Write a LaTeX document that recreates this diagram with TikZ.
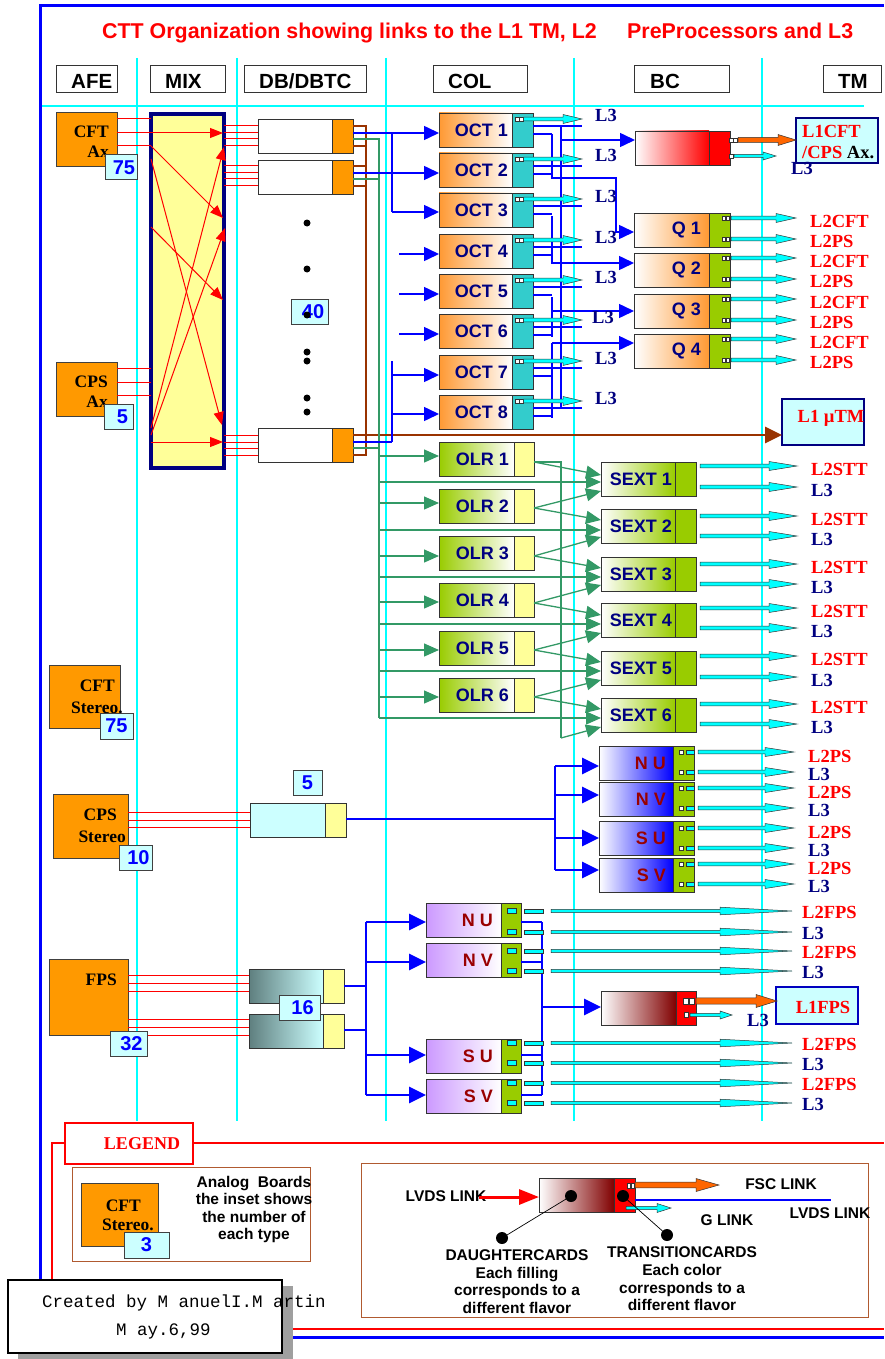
\documentclass[tikz,border=0pt]{standalone}
\usepackage{fontspec}
\setmainfont{Liberation Sans}
\newfontfamily\serfam{Liberation Serif}
\newfontfamily\monofam{Liberation Mono}
\usetikzlibrary{arrows.meta,calc}
\definecolor{cafe}{HTML}{FF9900}
\definecolor{coct}{HTML}{FF9933}
\definecolor{cltc}{HTML}{CCFFFF}
\definecolor{cyel}{HTML}{FFFF99}
\definecolor{cnavy}{HTML}{000080}
\definecolor{cteal}{HTML}{33CCCC}
\definecolor{clg}{HTML}{99CC00}
\definecolor{cbrn}{HTML}{993300}
\definecolor{cgrn}{HTML}{339966}
\definecolor{cmar}{HTML}{990000}
\definecolor{cvio}{HTML}{CC99FF}
\definecolor{cslate}{HTML}{5F7F7F}
\definecolor{cdred}{HTML}{800000}
\definecolor{caqua}{HTML}{00FFFF}
\definecolor{corr}{HTML}{FF6600}
\definecolor{clb}{HTML}{B05A30}
\newcommand\fs[1]{\fontsize{#1}{#1}\selectfont}
\newcommand\parr[7]{\filldraw[fill=#1,draw=black!80,line width=0.5pt] (#2,#4-#6) -- (#3-#5,#4-#6) -- (#3-#5,#4-#7) -- (#3,#4) -- (#3-#5,#4+#7) -- (#3-#5,#4+#6) -- (#2,#4+#6) -- cycle;}
\newcommand\carr[4]{\parr{caqua}{#1}{#2}{#3}{#4}{1.8}{4.5}}
\newcommand\card[8]{%
 \node[cardm,#6,minimum width=#4pt] (#1) at (#2,#3) {};
 \node[cardm,#7,minimum width=#5pt] (#1-t) at (#1.north east) {};
 \node[cardtxt] (#1-l) at ($(#1.east)+(-3pt,0)$) {#8};}
\tikzset{
 hdr/.style={draw=black!80,line width=1pt,fill=white,anchor=north west,inner sep=0,outer sep=0,minimum height=27pt},
 hdrtxt/.style={anchor=base west,inner sep=0,font=\bfseries\fs{20.5}},
 afe/.style={draw=black!75,line width=1pt,fill=cafe,anchor=north west,inner sep=0,outer sep=0},
 afetxt/.style={anchor=base east,inner sep=0,font=\serfam\bfseries\fs{17.5}},
 insetb/.style={draw=black!75,line width=1pt,fill=cltc,anchor=north west,inner sep=0,outer sep=0,text=blue,font=\bfseries\fs{20}},
 cardm/.style={draw=black!80,line width=0.9pt,anchor=north west,inner sep=0,outer sep=0,minimum height=34pt},
 cardtxt/.style={anchor=east,inner sep=0,text=cnavy,font=\bfseries\fs{18}},
 labr/.style={anchor=base west,inner sep=0,text=red,font=\serfam\bfseries\fs{18.5}},
 labn/.style={anchor=base west,inner sep=0,text=cnavy,font=\serfam\bfseries\fs{18.5}},
 redl/.style={draw=red,line width=1pt},
 redarr/.style={redl,-{Triangle[length=13pt,width=10pt]}},
 bl/.style={draw=blue,line width=1.2pt},
 blt/.style={draw=blue,line width=2.8pt},
 blarr/.style={draw=blue,line width=1.5pt,-{Triangle[length=15pt,width=14pt]}},
 bltarr/.style={draw=blue,line width=2.8pt,-{Triangle[length=17pt,width=16pt]}},
 brl/.style={draw=cbrn,line width=2.4pt},
 gl/.style={draw=cgrn,line width=1.3pt},
 garr/.style={gl,-{Triangle[length=15pt,width=13pt]}},
 cgrid/.style={draw=caqua,line width=1.1pt},
 sq/.style={draw=black!80,fill=white,line width=0.5pt},
 dotn/.style={circle,fill=black,inner sep=0,minimum size=7pt},
 lgtxt/.style={font=\bfseries\fontsize{15.5}{17.6}\selectfont,align=center,inner sep=0},
 lboxt/.style={font=\bfseries\fs{15.5},inner sep=0},
 l1box/.style={draw=cnavy,line width=1.5pt,fill=cltc,anchor=north west,inner sep=0,outer sep=0}
}
\begin{document}
\begin{tikzpicture}[x=1pt,y=-1pt]
\useasboundingbox (0,0) rectangle (884,1359);
% grid
\foreach \gx in {137,237,386,574,762} \draw[cgrid] (\gx,58) -- (\gx,1121);
\draw[cgrid] (40,106) -- (864,106);
% frame
\draw[blue,line width=3pt] (40,1337) -- (40,6) -- (884,6);
\draw[blue,line width=3pt] (40,1337) -- (884,1337);
\draw[red,line width=1.5pt] (193,1143) -- (884,1143);
\draw[red,line width=1.5pt] (65,1143) -- (52,1143) -- (52,1329) -- (884,1329);
% title
\node[anchor=base west,inner sep=0,text=red,font=\bfseries\fs{21.4}] (title1) at (102,38.5) {CTT Organization showing links to the L1 TM, L2};
\node[anchor=base west,inner sep=0,text=red,font=\bfseries\fs{21.4}] (title2) at (627,38.5) {PreProcessors and L3};
% headers
\node[hdr,minimum width=61pt] (hafe) at (56,66) {};
\node[hdrtxt] (tafe) at (71,89) {AFE};
\node[hdr,minimum width=75pt] (hmix) at (150,66) {};
\node[hdrtxt] (tmix) at (165,89) {MIX};
\node[hdr,minimum width=122pt] (hdb) at (244,66) {};
\node[hdrtxt] (tdb) at (259,89) {DB/DBTC};
\node[hdr,minimum width=94pt] (hcol) at (433,66) {};
\node[hdrtxt] (tcol) at (448,89) {COL};
\node[hdr,minimum width=95pt] (hbc) at (634,66) {};
\node[hdrtxt] (tbc) at (650,89) {BC};
\node[hdr,minimum width=58pt] (htm) at (823,66) {};
\node[hdrtxt] (ttm) at (838,89) {TM};
% AFE boards
\node[afe,minimum width=61pt,minimum height=54pt] (cftax) at (56,113) {};
\node[afetxt] (cftax1) at (109,138) {CFT};
\node[afetxt] (cftax2) at (109,158) {Ax};
\node[afe,minimum width=61pt,minimum height=54pt] (cpsax) at (56,362) {};
\node[afetxt] (cpsax1) at (108,387) {CPS};
\node[afetxt] (cpsax2) at (108,407) {Ax};
\node[afe,minimum width=71pt,minimum height=63pt] (cftst) at (49,665) {};
\node[afetxt] (cftst1) at (115,691) {CFT};
\node[afetxt] (cftst2) at (123,713) {Stereo.};
\node[afe,minimum width=75pt,minimum height=64pt] (cpsst) at (53,794) {};
\node[afetxt] (cpsst1) at (117,820) {CPS};
\node[afetxt] (cpsst2) at (126,842) {Stereo};
\node[afe,minimum width=79pt,minimum height=76pt] (fps) at (49,959) {};
\node[afetxt] (fps1) at (117,985) {FPS};
% MIX
\node[draw=cnavy,line width=3.5pt,fill=cyel,anchor=north west,inner sep=0,outer sep=0,minimum width=73pt,minimum height=354pt] (mix) at (151,114) {};
% DB
\card{db1}{258}{119}{74}{21}{fill=white}{fill=cafe}{}
\card{db2}{258}{160}{74}{21}{fill=white}{fill=cafe}{}
\card{db3}{258}{428}{74}{21}{fill=white}{fill=cafe}{}
% OCT
\foreach \i/\yy in {1/113,2/153,3/193,4/234,5/274,6/314,7/355,8/395}{
 \card{oct\i}{439}{\yy}{73}{21}{left color=coct,right color=white}{fill=cteal}{OCT \i\kern1pt}}
% Q
\foreach \i/\yy in {1/213,2/253,3/294,4/334}{
 \card{q\i}{634}{\yy}{75}{21}{left color=white,right color=coct}{fill=clg}{Q \i\kern5pt}}
\card{rb}{635}{131}{74}{21}{left color=white,right color=red}{fill=red}{}
% OLR
\foreach \i/\yy in {1/442,2/489,3/536,4/583,5/631,6/678}{
 \card{olr\i}{439}{\yy}{75}{20}{left color=clg,right color=white}{fill=cyel}{OLR \i\kern2pt}}
% SEXT
\foreach \i/\yy in {1/462,2/509,3/557,4/603,5/651,6/698}{
 \card{sx\i}{601}{\yy}{74}{21}{left color=white,right color=clg}{fill=clg}{SEXT \i}}
% stereo
\foreach \i/\yy/\tx in {1/746/N U,2/782/N V,3/821/S U,4/858/S V}{
 \card{sn\i}{599}{\yy}{74}{21}{left color=white,right color=blue}{fill=clg}{\textcolor{cmar}{\tx}\kern4pt}}
% FPS
\foreach \i/\yy/\tx in {1/903/N U,2/943/N V,3/1039/S U,4/1079/S V}{
 \card{fn\i}{426}{\yy}{75}{20}{left color=cvio,right color=white}{fill=clg}{\textcolor{cmar}{\tx}\kern5pt}}
\card{fb}{601}{991}{75}{20}{left color=white,right color=cdred}{fill=red}{}
\card{cdb}{250}{803}{75}{21}{fill=cltc}{fill=cyel}{}
\card{fdb1}{249}{969}{74}{21}{left color=cslate,right color=cltc}{fill=cyel}{}
\card{fdb2}{249}{1014}{74}{21}{left color=cslate,right color=cltc}{fill=cyel}{}
% L1 boxes
\node[l1box,minimum width=82pt,minimum height=45pt] (l1cft) at (796,118) {};
\node[labr] (l1cft1) at (802,138) {L1CFT};
\node[labr] (l1cft2) at (802,159) {/CPS \textcolor{black}{Ax.}};
\node[l1box,minimum width=82pt,minimum height=46pt] (l1mu) at (782,399) {};
\node[labr,anchor=base] (l1mut) at (831,422) {L1 µTM};
\node[l1box,draw=blue!75!black,minimum width=82pt,minimum height=37pt] (l1fps) at (776,987) {};
\node[labr,anchor=base] (l1fpst) at (823,1013) {L1FPS};

% ---- red lines AFE -> MIX -> DB
\draw[redl] (cftax.east |- 0,119) -- (mix.west |- 0,119);
\draw[redarr] (cftax.east |- 0,133) -- (223,133);
\draw[redl] (cftax.east |- 0,146) -- (151,146);
\draw[redarr] (151,146) -- (223,218);
\draw[redarr] (151,159) -- (222,425);
\draw[redarr] (151,227) -- (223,300);
\draw[redl] (cpsax.east |- 0,368) -- (mix.west |- 0,368);
\draw[redl] (cpsax.east |- 0,382) -- (mix.west |- 0,382);
\draw[redl] (cpsax.east |- 0,395) -- (mix.west |- 0,395);
\draw[redarr] (151,428) -- (224,147);
\draw[redarr] (151,435) -- (225,228);
\draw[redarr] (151,442) -- (223,442);
\foreach \yy in {126,133,139,146} \draw[redl] (224,\yy) -- (db1.west |- 0,\yy);
\foreach \yy in {166,173,179,186} \draw[redl] (224,\yy) -- (db2.west |- 0,\yy);
\foreach \yy in {435,442,448,455} \draw[redl] (224,\yy) -- (db3.west |- 0,\yy);
\foreach \yy in {812,820,827} \draw[redl] (cpsst.east |- 0,\yy) -- (cdb.west |- 0,\yy);
\foreach \yy in {975,983,991} \draw[redl] (fps.east |- 0,\yy) -- (fdb1.west |- 0,\yy);
\foreach \yy in {1019,1027,1035} \draw[redl] (fps.east |- 0,\yy) -- (fdb2.west |- 0,\yy);

% ---- brown
\draw[brl] (db1-t.east |- 0,126) -- (366,126) -- (366,455) -- (db3-t.east |- 0,455);
\draw[brl] (db1-t.east |- 0,146) -- (366,146);
\draw[brl] (db2-t.east |- 0,166) -- (366,166);
\draw[brl] (db2-t.east |- 0,186) -- (366,186);
\draw[brl,line width=2.8pt,-{Triangle[length=17pt,width=16pt]}] (db3-t.east |- 0,435) -- (l1mu.west |- 0,435);

% ---- green
\draw[gl] (db1-t.east |- 0,139) -- (379,139) -- (379,718);
\draw[gl] (db2-t.east |- 0,179) -- (379,179);
\draw[gl] (db3-t.east |- 0,448) -- (379,448);
\foreach \i/\yy in {1/456,2/503,3/556,4/602,5/650,6/697} \draw[garr] (379,\yy) -- (olr\i.west |- 0,\yy);
\foreach \i/\yy in {1/482,2/530,3/577,4/624,5/671,6/718} \draw[garr] (379,\yy) -- (sx\i.west |- 0,\yy);
\draw[gl] (olr1-t.east |- 0,462) -- (561,462) -- (561,738);
\draw[garr] (olr1-t.east |- 0,462) -- (sx1.west |- 0,475);
\foreach \i/\j/\yy/\ya/\yb in {2/1/508/491/520,3/2/556/537/568,4/3/603/585/615,5/4/650/633/662,6/5/697/680/709}{
 \draw[garr] (olr\i-t.east |- 0,\yy) -- (sx\j.west |- 0,\ya);
 \draw[garr] (olr\i-t.east |- 0,\yy) -- (sx\i.west |- 0,\yb);}
\draw[garr] (561,738) -- (sx6.west |- 0,727);

% ---- blue into OCT
\draw[blt] (db1-t.east |- 0,133) -- (392,133);
\draw[blt] (db2-t.east |- 0,173) -- (392,173);
\draw[bl] (392,133) -- (392,212);
\draw[blarr] (392,133) -- (oct1.west |- 0,133);
\draw[blarr] (392,173) -- (oct2.west |- 0,173);
\draw[blarr] (392,212) -- (oct3.west |- 0,212);
\draw[blarr] (399,254) -- (oct4.west |- 0,254);
\draw[blarr] (399,294) -- (oct5.west |- 0,294);
\draw[blarr] (399,334) -- (oct6.west |- 0,334);
\draw[blt] (db3-t.east |- 0,442) -- (392,442);
\draw[bl] (392,361) -- (392,442);
\draw[blarr] (392,375) -- (oct7.west |- 0,375);
\draw[blarr] (392,414) -- (oct8.west |- 0,414);

% ---- OCT outputs
\foreach \i/\yy in {1/113,2/153,3/193,4/234,5/274,6/314,7/355,8/395}{
 \draw[bl] (oct\i-t.east |- 0,\yy+13) -- (582,\yy+13);
 \draw[bl] (oct\i-t.east |- 0,\yy+21) -- (552,\yy+21);}
\draw[bl] (561,126) -- (561,409);
\draw[blarr] (561,140) -- (rb.west |- 0,140);
\draw[blarr] (552,134) -- (552,178) -- (616,178) -- (616,232) -- (q1.west |- 0,232);
\draw[blarr] (552,216) -- (552,263) -- (q2.west |- 0,263);
\draw[bl] (552,297) -- (552,337);
\draw[blarr] (552,311) -- (q3.west |- 0,311);
\draw[bl] (552,343) -- (552,418);
\draw[blarr] (552,343) -- (q4.west |- 0,343);
\foreach \i/\yy/\lx in {1/113/595,2/153/595,3/193/595,4/234/595,5/274/595,6/314/592,7/355/595,8/395/595}{
 \draw[sq] (515,\yy+4) rectangle +(4,4);
 \draw[sq] (519.5,\yy+4) rectangle +(4,4);
 \carr{523.5}{582}{\yy+6}{19}
 \node[labn] (l3o\i) at (\lx,\yy+9) {L3};}

% ---- BC red board outputs
\draw[sq] (729,138) rectangle +(4,4);
\draw[sq] (733.5,138) rectangle +(4,4);
\parr{corr}{738}{796}{140}{18}{2.5}{5.5}
\draw[sq] (729,154) rectangle +(4,4);
\parr{caqua}{734}{776}{156}{13}{1.5}{4}
\node[labn] (l3rb) at (791,175) {L3};

% ---- Q outputs
\foreach \i/\yy in {1/213,2/253,3/294,4/334}{
 \draw[sq] (722,\yy+3) rectangle +(3.5,4);
 \draw[sq] (726,\yy+3) rectangle +(3.5,4);
 \draw[sq] (722,\yy+24) rectangle +(3.5,4);
 \draw[sq] (726,\yy+24) rectangle +(3.5,4);
 \carr{731}{796}{\yy+5}{20}
 \carr{731}{796}{\yy+26}{20}
 \node[labr] (qa\i) at (810,\yy+14) {L2CFT};
 \node[labr] (qb\i) at (810,\yy+34) {L2PS};}

% ---- SEXT outputs
\foreach \i/\ya/\yb in {1/466/487,2/516/536,3/564/584,4/608/628,5/656/677,6/704/724}{
 \carr{700}{797}{\ya}{28}
 \carr{700}{797}{\yb}{28}
 \node[labr] (sa\i) at (811,\ya+9) {L2STT};
 \node[labn] (sb\i) at (811,\yb+9.5) {L3};}

% ---- CPS stereo
\draw[blt] (cdb-t.east |- 0,819) -- (555,819);
\draw[blt] (555,766) -- (555,870);
\foreach \i/\yy in {1/766,2/795,3/838,4/870} \draw[bltarr] (555,\yy) -- (sn\i.west |- 0,\yy);
\foreach \i/\ya/\yb in {1/752/772,2/788/808,3/828/848,4/864/884}{
 \draw[sq] (679,\ya-2) rectangle +(4,4);
 \filldraw[fill=caqua,draw=black!80,line width=0.5pt] (686,\ya-2) rectangle +(8,4);
 \draw[sq] (679,\yb-2) rectangle +(4,4);
 \filldraw[fill=caqua,draw=black!80,line width=0.5pt] (686,\yb-2) rectangle +(8,4);
 \carr{698}{794}{\ya}{29}
 \carr{698}{794}{\yb}{29}
 \node[labr] (spa\i) at (808,\ya+10) {L2PS};
 \node[labn] (spb\i) at (808,\yb+8) {L3};}

% ---- FPS
\draw[blt] (fdb1-t.east |- 0,986) -- (366,986);
\draw[blt] (fdb2-t.east |- 0,1030) -- (366,1030);
\draw[blt] (366,922) -- (366,1095);
\foreach \i/\yy in {1/922,2/962,3/1055,4/1095} \draw[bltarr] (366,\yy) -- (fn\i.west |- 0,\yy);
\foreach \i/\yy in {1/922,2/962,3/1055,4/1095} \draw[blt] (fn\i-t.east |- 0,\yy) -- (542,\yy);
\draw[blt] (542,922) -- (542,1095);
\draw[bltarr] (542,1007) -- (fb.west |- 0,1007);
\foreach \ya in {911,932,951,971,1043,1063,1083,1103}{
 \filldraw[fill=caqua,draw=black!80,line width=0.5pt] (507,\ya-2.5) rectangle (516,\ya+2.5);
 \filldraw[fill=caqua,draw=black!80,line width=0.5pt] (524,\ya-2) rectangle (543,\ya+2);
 \parr{caqua}{551}{792}{\ya}{72}{1.6}{3.8}}
\foreach \i/\ya/\yb in {1/911/932,2/951/971,3/1043/1063,4/1083/1103}{
 \node[labr] (fpa\i) at (802,\ya+7) {L2FPS};
 \node[labn] (fpb\i) at (802,\yb+7) {L3};}
\draw[sq] (683,998) rectangle +(5,6);
\draw[sq] (689,998) rectangle +(5,6);
\parr{corr}{696}{777}{1001}{21}{3.2}{6.5}
\draw[sq] (684,1012.5) rectangle +(4,5);
\parr{caqua}{690}{732}{1015}{12}{1.6}{4}
\node[labn] (l3fb) at (747,1026) {L3};

% ---- insets and dots
\node[insetb,minimum width=32pt,minimum height=25pt] (i75a) at (105,155) {\kern6pt75};
\node[insetb,minimum width=29pt,minimum height=25pt] (i5a) at (104,404) {\kern8pt5};
\node[insetb,minimum width=33pt,minimum height=26pt] (i75b) at (100,713) {75};
\node[insetb,minimum width=33pt,minimum height=25pt] (i10) at (119,845) {\kern6pt10};
\node[insetb,minimum width=37pt,minimum height=25pt] (i32) at (110,1031) {\kern6pt32};
\node[insetb,minimum width=37pt,minimum height=25pt] (i40) at (291,299) {\kern7pt40};
\node[insetb,minimum width=29pt,minimum height=25pt] (i5b) at (293,770) {5};
\node[insetb,minimum width=41pt,minimum height=25pt] (i16) at (279,995) {\kern6pt16};
\foreach \i/\yy in {1/223,2/269,3/315,4/352,5/361,6/398,7/412} \node[dotn] (dt\i) at (307,\yy) {};

% ---- legend
\node[draw=red,line width=1.2pt,fill=white,anchor=north west,inner sep=0,outer sep=0,minimum width=128pt,minimum height=41pt] (legbox) at (65,1123) {};
\node[text=red,font=\serfam\bfseries\fs{18},inner sep=0] (legtxt) at (142,1144) {LEGEND};
\node[draw=clb,line width=1pt,anchor=north west,inner sep=0,outer sep=0,minimum width=238pt,minimum height=94pt] (legl) at (72,1167) {};
\node[afe,minimum width=77pt,minimum height=63pt] (legafe) at (81,1183) {};
\node[afetxt] (legafe1) at (141,1211) {CFT};
\node[afetxt] (legafe2) at (154,1230) {Stereo.};
\node[insetb,minimum width=45pt,minimum height=26pt] (leg3) at (124,1232) {3};
\node[lgtxt] (legan) at (254,1209.5) {Analog~ Boards\\the inset shows\\the number of\\each type};
\node[draw=clb,line width=1pt,anchor=north west,inner sep=0,outer sep=0,minimum width=507pt,minimum height=154pt] (legr) at (361,1163) {};
\card{lb}{539}{1178}{75}{21}{left color=white,right color=cdred}{fill=red}{}
\draw[sq] (627,1183) rectangle +(3,5);
\draw[sq] (631,1183) rectangle +(3,5);
\parr{corr}{635}{719}{1185}{23}{2.8}{6.5}
\draw[blue,line width=2.4pt] (lb-t.east |- 0,1200) -- (831,1200);
\parr{caqua}{626}{671}{1208}{14}{1.6}{4.5}
\node[lboxt] (lvds1) at (446,1196) {LVDS LINK};
\draw[red,line width=3pt,-{Triangle[length=20pt,width=15pt]}] (479,1197) -- (lb.west |- 0,1197);
\node[lboxt] (fsc) at (781,1184) {FSC LINK};
\node[lboxt] (lvds2) at (830,1213) {LVDS LINK};
\node[lboxt] (glink) at (727,1220) {G LINK};
\node[circle,fill=black,inner sep=0,minimum size=12pt] (ld1) at (571,1196) {};
\node[circle,fill=black,inner sep=0,minimum size=12pt] (ld2) at (623,1196) {};
\node[circle,fill=black,inner sep=0,minimum size=12pt] (ld3) at (502,1238) {};
\node[circle,fill=black,inner sep=0,minimum size=12pt] (ld4) at (667,1235) {};
\draw[black,line width=0.7pt] (ld1.center) -- (ld3.center);
\draw[black,line width=0.7pt] (ld2.center) -- (ld4.center);
\node[lgtxt] (dct) at (517,1281.5) {DAUGHTERCARDS\\Each filling\\corresponds to a\\different flavor};
\node[lgtxt] (tct) at (682,1279) {TRANSITIONCARDS\\Each color\\corresponds to a\\different flavor};

% ---- created by
\fill[gray!75] (18,1286) rectangle (293,1359);
\node[draw=black,line width=1.2pt,fill=white,anchor=north west,inner sep=0,outer sep=0,minimum width=274pt,minimum height=73pt] (cbox) at (8,1280) {};
\node[anchor=west,inner sep=0,font=\monofam\fs{17.5}] (cr1) at (42,1303) {Created by M anuelI.M artin};
\node[anchor=west,inner sep=0,font=\monofam\fs{17.5}] (cr2) at (116,1331) {M ay.6,99};
\end{tikzpicture}
\end{document}
